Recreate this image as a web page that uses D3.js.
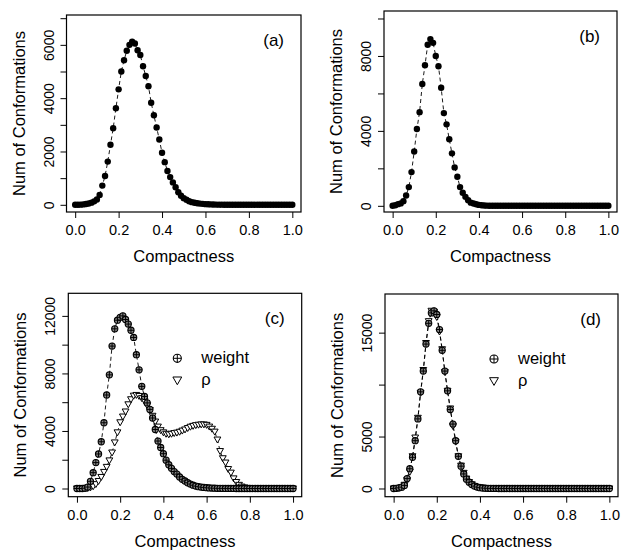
<!DOCTYPE html>
<html>
<head>
    <title>Compactness distributions</title>
    <script src="https://d3js.org/d3.v7.min.js"></script>
    <style>
        body { margin: 0; background: #fff; }
        text { font-family: "Liberation Sans", Arial, Helvetica, sans-serif; fill: #000; }
    </style>
</head>
<body>
    <svg id="chart"></svg>

    <script>
        // compactness values shared by every series
        const compactness = [0, 0.0125, 0.025, 0.0375, 0.05, 0.0625, 0.075, 0.0875, 0.1, 0.1125,
            0.125, 0.1375, 0.15, 0.1625, 0.175, 0.1875, 0.2, 0.2125, 0.225, 0.2375,
            0.25, 0.2625, 0.275, 0.2875, 0.3, 0.3125, 0.325, 0.3375, 0.35, 0.3625,
            0.375, 0.3875, 0.4, 0.4125, 0.425, 0.4375, 0.45, 0.4625, 0.475, 0.4875,
            0.5, 0.5125, 0.525, 0.5375, 0.55, 0.5625, 0.575, 0.5875, 0.6, 0.6125,
            0.625, 0.6375, 0.65, 0.6625, 0.675, 0.6875, 0.7, 0.7125, 0.725, 0.7375,
            0.75, 0.7625, 0.775, 0.7875, 0.8, 0.8125, 0.825, 0.8375, 0.85, 0.8625,
            0.875, 0.8875, 0.9, 0.9125, 0.925, 0.9375, 0.95, 0.9625, 0.975, 0.9875,
            1];

        const countsA = [0, 0, 5, 15, 30, 50, 80, 130, 200, 370,
            720, 1080, 1620, 2250, 2870, 3620, 4330, 5000, 5420, 5780,
            6000, 6120, 6050, 5800, 5620, 5200, 4830, 4450, 3830, 3360,
            2900, 2450, 1950, 1600, 1270, 1040, 840, 660, 470, 340,
            250, 190, 135, 100, 75, 60, 45, 35, 25, 20,
            15, 10, 8, 6, 5, 4, 3, 2, 2, 1,
            1, 0, 0, 0, 0, 0, 0, 0, 0, 0,
            0, 0, 0, 0, 0, 0, 0, 0, 0, 0,
            0];

        const countsB = [0, 30, 90, 130, 250, 550, 1000, 1800, 2900, 4100,
            5000, 6500, 7500, 8600, 8900, 8700, 8000, 7450, 6300, 4950,
            4350, 3550, 2800, 2050, 1550, 1000, 700, 480, 300, 170,
            120, 80, 50, 30, 15, 8, 4, 2, 1, 0,
            0, 0, 0, 0, 0, 0, 0, 0, 0, 0,
            0, 0, 0, 0, 0, 0, 0, 0, 0, 0,
            0, 0, 0, 0, 0, 0, 0, 0, 0, 0,
            0, 0, 0, 0, 0, 0, 0, 0, 0, 0,
            0];

        const weightC = [0, 0, 0, 20, 100, 500, 1100, 1800, 2400, 3250,
            4570, 6500, 7900, 9900, 11100, 11700, 11900, 12000, 11750, 11430,
            11000, 10500, 9300, 8250, 7100, 6400, 5950, 5500, 4900, 4100,
            3300, 2850, 2420, 1970, 1650, 1400, 1180, 1000, 800, 640,
            520, 400, 310, 230, 170, 130, 100, 75, 55, 40,
            30, 20, 15, 10, 8, 5, 4, 3, 2, 1,
            0, 0, 0, 0, 0, 0, 0, 0, 0, 0,
            0, 0, 0, 0, 0, 0, 0, 0, 0, 0,
            0];

        const rhoC = [0, 0, 0, 10, 30, 70, 150, 300, 520, 800,
            1150, 1500, 1950, 2500, 3200, 3900, 4600, 5000, 5350, 5850,
            6200, 6450, 6500, 6430, 6280, 6080, 5780, 5450, 5050, 4650,
            4300, 4050, 3900, 3800, 3760, 3800, 3850, 3880, 3940, 4020,
            4100, 4200, 4290, 4350, 4400, 4430, 4450, 4450, 4420, 4300,
            4150, 3950, 3400, 2600, 2100, 1800, 1350, 1100, 700, 450,
            250, 130, 70, 35, 15, 8, 4, 2, 1, 0,
            0, 0, 0, 0, 0, 0, 0, 0, 0, 0,
            0];

        const weightD = [0, 20, 60, 130, 300, 950, 1900, 3000, 4600, 6700,
            9300, 11300, 13900, 15900, 16900, 17100, 16750, 15300, 13300, 11300,
            9400, 7600, 6200, 4600, 3100, 2150, 1400, 900, 600, 380,
            230, 140, 80, 50, 30, 20, 10, 6, 3, 1,
            0, 0, 0, 0, 0, 0, 0, 0, 0, 0,
            0, 0, 0, 0, 0, 0, 0, 0, 0, 0,
            0, 0, 0, 0, 0, 0, 0, 0, 0, 0,
            0, 0, 0, 0, 0, 0, 0, 0, 0, 0,
            0];

        const rhoD = [0, 10, 50, 120, 350, 800, 1600, 3100, 4900, 6800,
            9200, 11400, 14000, 16100, 17100, 17000, 16500, 15100, 13400, 11200,
            9400, 7700, 6000, 4500, 3100, 2200, 1500, 950, 620, 400,
            240, 150, 90, 55, 30, 20, 12, 6, 3, 1,
            0, 0, 0, 0, 0, 0, 0, 0, 0, 0,
            0, 0, 0, 0, 0, 0, 0, 0, 0, 0,
            0, 0, 0, 0, 0, 0, 0, 0, 0, 0,
            0, 0, 0, 0, 0, 0, 0, 0, 0, 0,
            0];

        const xTicks = [0, 0.2, 0.4, 0.6, 0.8, 1.0];
        const yTicksA = [0, 1000, 2000, 3000, 4000, 5000, 6000, 7000];
        const yLabelsA = [0, 2000, 4000, 6000];
        const yTicksB = [0, 2000, 4000, 6000, 8000, 10000];
        const yLabelsB = [0, 4000, 8000];
        const yTicksC = [0, 2000, 4000, 6000, 8000, 10000, 12000];
        const yLabelsC = [0, 4000, 8000, 12000];
        const yTicksD = [0, 5000, 10000, 15000];
        const yLabelsD = [0, 5000, 15000];
        const legendLabels = ["weight", "\u03c1"];

        const W = 623, H = 550;
        const svg = d3.select("#chart").attr("width", W).attr("height", H);

        const panels = [
            { tag: "(a)", box: [66.5, 15, 301, 212], yDom: [-270, 7120], ticks: yTicksA, labels: yLabelsA,
              series: [{ values: countsA, sym: "dot" }] },
            { tag: "(b)", box: [384, 11, 617, 212], yDom: [-330, 10400], ticks: yTicksB, labels: yLabelsB,
              series: [{ values: countsB, sym: "dot" }] },
            { tag: "(c)", box: [68.3, 293.3, 301.7, 496.7], yDom: [-570, 13570], ticks: yTicksC, labels: yLabelsC,
              series: [{ values: rhoC, sym: "tri" }, { values: weightC, sym: "oplus" }], legend: true },
            { tag: "(d)", box: [385, 294, 618, 496.7], yDom: [-790, 18720], ticks: yTicksD, labels: yLabelsD,
              series: [{ values: rhoD, sym: "tri" }, { values: weightD, sym: "oplus" }], legend: true }
        ];

        // s = size factor, fill = inner colour of the circle-plus
        function drawSymbol(g, sym, cx, cy, s, fill) {
            if (sym === "dot") {
                g.append("circle").attr("cx", cx).attr("cy", cy).attr("r", 3.2 * s).attr("fill", "#000");
            } else if (sym === "oplus") {
                const r = 3.1 * s;
                g.append("circle").attr("cx", cx).attr("cy", cy).attr("r", r)
                    .attr("fill", fill || "#fff").attr("stroke", "#000").attr("stroke-width", 1.1);
                g.append("path")
                    .attr("d", `M${cx - r},${cy}H${cx + r}M${cx},${cy - r}V${cy + r}`)
                    .attr("stroke", "#000").attr("stroke-width", 1);
            } else {
                const w = 3.4 * s, h = 3.4 * s;
                g.append("path")
                    .attr("d", `M${cx - w},${cy - h * 0.75}L${cx + w},${cy - h * 0.75}L${cx},${cy + h}Z`)
                    .attr("fill", "#fff").attr("stroke", "#000").attr("stroke-width", 1);
            }
        }

        panels.forEach(p => {
            const [x0, y0, x1, y1] = p.box;
            const g = svg.append("g");

            const x = d3.scaleLinear().domain([-0.04, 1.04]).range([x0, x1]);
            const y = d3.scaleLinear().domain(p.yDom).range([y1, y0]);

            // dashed connecting lines
            const line = d3.line().x((d, i) => x(compactness[i])).y(d => y(d));
            p.series.forEach(s => {
                g.append("path").datum(s.values)
                    .attr("d", line)
                    .attr("fill", "none")
                    .attr("stroke", "#000")
                    .attr("stroke-width", 0.9)
                    .attr("stroke-dasharray", "4,3");
            });

            // points
            p.series.forEach(s => {
                const pg = g.append("g");
                s.values.forEach((v, i) => drawSymbol(pg, s.sym, x(compactness[i]), y(v), 1, "#888"));
            });

            // box
            g.append("rect")
                .attr("x", x0).attr("y", y0)
                .attr("width", x1 - x0).attr("height", y1 - y0)
                .attr("fill", "none").attr("stroke", "#000").attr("stroke-width", 1.2);

            // x axis
            const xa = g.append("g")
                .attr("transform", `translate(0,${y1})`)
                .call(d3.axisBottom(x).tickValues(xTicks).tickSize(6).tickPadding(7)
                    .tickSizeOuter(0).tickFormat(d3.format(".1f")));
            xa.select(".domain").remove();
            xa.selectAll("text").style("font-size", "14.5px");

            // y axis with rotated labels
            const ya = g.append("g")
                .attr("transform", `translate(${x0},0)`)
                .call(d3.axisLeft(y).tickValues(p.ticks).tickSize(6).tickSizeOuter(0)
                    .tickFormat(d => p.labels.includes(d) ? d : ""));
            ya.select(".domain").remove();
            ya.selectAll("text")
                .attr("transform", "rotate(-90)")
                .attr("x", 0).attr("y", -13).attr("dy", null)
                .attr("text-anchor", "middle")
                .style("font-size", "14px");

            // axis titles
            g.append("text")
                .attr("x", (x0 + x1) / 2).attr("y", y1 + 50)
                .attr("text-anchor", "middle")
                .style("font-size", "16.5px")
                .text("Compactness");
            g.append("text")
                .attr("transform", `translate(${x0 - 42},${(y0 + y1) / 2}) rotate(-90)`)
                .attr("text-anchor", "middle")
                .style("font-size", "16.5px")
                .text("Num of Conformations");

            // panel tag
            g.append("text")
                .attr("x", x1 - 17).attr("y", y0 + 31)
                .attr("text-anchor", "end")
                .style("font-size", "17px")
                .text(p.tag);

            if (p.legend) {
                const lg = g.append("g");
                const syms = ["oplus", "tri"];
                const rows = [y0 + 65, y0 + 87];
                legendLabels.forEach((lab, i) => {
                    drawSymbol(lg, syms[i], x0 + 109, rows[i], 1.3, "#fff");
                    lg.append("text")
                        .attr("x", x0 + 133).attr("y", rows[i])
                        .attr("dy", "0.3em")
                        .style("font-size", "16.5px")
                        .text(lab);
                });
            }
        });
    </script>
</body>
</html>
